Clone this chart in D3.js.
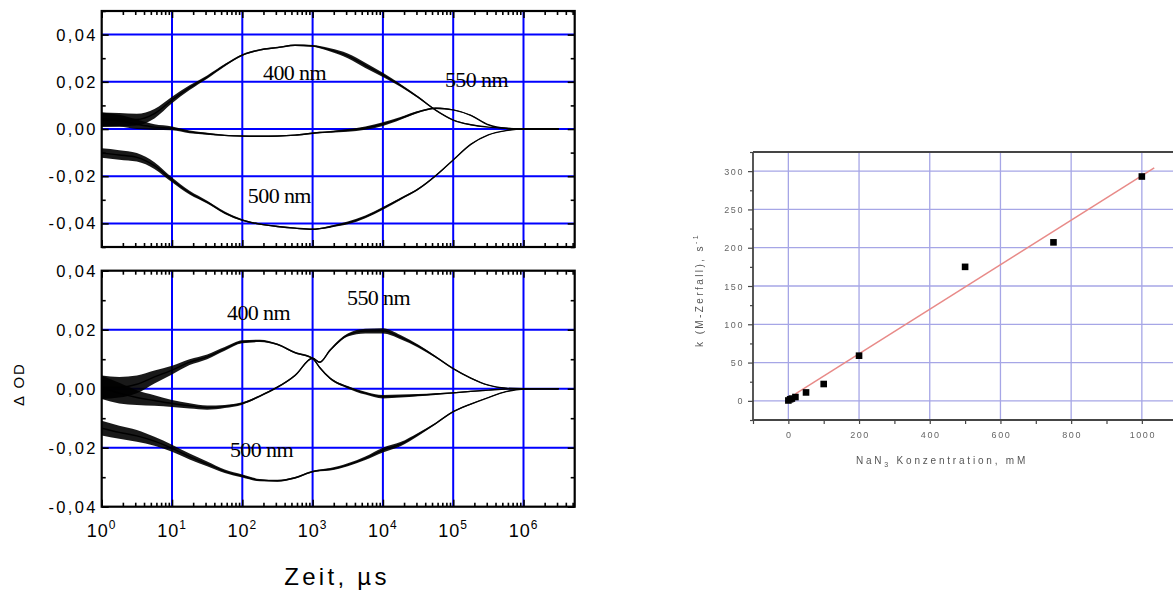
<!DOCTYPE html>
<html><head><meta charset="utf-8">
<script src="https://cdn.jsdelivr.net/npm/d3@7"></script>
<style>
html,body{margin:0;padding:0;background:#fff;}
svg{display:block;}
</style></head><body>
<svg id="fig" width="1173" height="592"></svg>
<script>
// ---------- transient absorption traces: ΔOD against log time ----------
const logTime = [0,0.25,0.5,0.75,1,1.25,1.5,1.75,2,2.25,2.5,2.75,3,3.1,3.25,3.5,3.75,4,4.25,4.5,4.75,5,5.25,5.5,5.75,6,6.25,6.5];

// upper panel
const top400 = [0.004,0.004,0.004,0.0065,0.0123,0.0175,0.022,0.027,0.0313,0.0335,0.0345,0.0355,0.0352,0.0347,0.0335,0.031,0.027,0.0229,0.0185,0.0135,0.008,0.0038,0.0018,0.0008,0.0003,0,0,0];
const top550 = [0.004,0.0035,0.002,0.0008,0.0003,-0.0012,-0.002,-0.0027,-0.003,-0.0031,-0.003,-0.0026,-0.0018,-0.0015,-0.0012,-0.0006,0.0004,0.0021,0.0045,0.0072,0.0088,0.0081,0.0058,0.0018,0.0003,0,0,0];
const top500 = [-0.0102,-0.011,-0.012,-0.0155,-0.0216,-0.027,-0.031,-0.0355,-0.0386,-0.0403,-0.0413,-0.042,-0.0425,-0.0422,-0.0414,-0.0398,-0.0372,-0.0336,-0.0296,-0.0255,-0.0198,-0.0131,-0.0065,-0.0025,-0.0007,0,0,0];
// lower panel
const bot400 = [0.0005,0.0005,0.0015,0.004,0.0063,0.009,0.0108,0.0135,0.0159,0.0162,0.015,0.0122,0.0103,0.0072,0.0035,0.0005,-0.0015,-0.0027,-0.0025,-0.0022,-0.0018,-0.0014,-0.0009,-0.0005,-0.0001,0,0,0];
const bot550 = [0.0005,-0.0015,-0.003,-0.004,-0.005,-0.0058,-0.0064,-0.006,-0.005,-0.0025,0.0005,0.0045,0.0103,0.009,0.0131,0.0182,0.0195,0.0196,0.0175,0.0145,0.0108,0.0068,0.0036,0.0012,0.0002,0,0,0];
const bot500 = [-0.0134,-0.0148,-0.016,-0.0178,-0.0202,-0.023,-0.0255,-0.028,-0.0296,-0.031,-0.0312,-0.0302,-0.0281,-0.0277,-0.0273,-0.0258,-0.0236,-0.0208,-0.0188,-0.0155,-0.0118,-0.0078,-0.0052,-0.003,-0.001,-0.0001,0,0];

// half-width of the measurement noise on each trace
const noiseTop400 = [0.003,0.0028,0.0025,0.002,0.0014,0.001,0.0007,0.0005,0.0004,0.0003,0.0003,0.0003,0.0004,0.0005,0.0007,0.001,0.0011,0.0009,0.0006,0.0004,0.0003,0.0002,0.0002,0.0001,0.0001,0.0001,0.0001,0.0001];
const noiseTop550 = [0.003,0.0025,0.002,0.0012,0.0008,0.0006,0.0004,0.0003,0.0003,0.0003,0.0003,0.0003,0.0003,0.0003,0.0004,0.0006,0.0007,0.0008,0.0006,0.0004,0.0003,0.0002,0.0002,0.0001,0.0001,0.0001,0.0001,0.0001];
const noiseTop500 = [0.002,0.002,0.0018,0.0014,0.001,0.0008,0.0006,0.0005,0.0004,0.0003,0.0003,0.0003,0.0003,0.0003,0.0004,0.0006,0.0006,0.0006,0.0005,0.0004,0.0003,0.0002,0.0002,0.0001,0.0001,0.0001,0.0001,0.0001];
const noiseBot400 = [0.004,0.0035,0.003,0.0022,0.0015,0.001,0.0008,0.0006,0.0005,0.0004,0.0003,0.0003,0.0003,0.0003,0.0003,0.0004,0.0005,0.0006,0.0005,0.0004,0.0003,0.0002,0.0002,0.0001,0.0001,0.0001,0.0001,0.0001];
const noiseBot550 = [0.004,0.0035,0.0025,0.0018,0.0012,0.0009,0.0007,0.0005,0.0004,0.0003,0.0003,0.0003,0.0003,0.0003,0.0004,0.0005,0.0008,0.0009,0.0007,0.0005,0.0003,0.0002,0.0002,0.0001,0.0001,0.0001,0.0001,0.0001];
const noiseBot500 = [0.0025,0.0022,0.002,0.0015,0.0012,0.001,0.0008,0.0006,0.0005,0.0004,0.0003,0.0003,0.0003,0.0003,0.0004,0.0005,0.0006,0.0008,0.0007,0.0005,0.0003,0.0002,0.0002,0.0001,0.0001,0.0001,0.0001,0.0001];

// wavelength labels: text, time (µs), ΔOD
const labelsTop = [["400 nm",197,0.0208],["550 nm",76400,0.0178],["500 nm",120,-0.0314]];
const labelsBot = [["400 nm",60.6,0.0233],["550 nm",3085,0.0284],["500 nm",66.8,-0.0232]];

const decadeExp = [0,1,2,3,4,5,6];
const odMajor = [-0.04,-0.02,0,0.02,0.04];
const odLabels = ["-0,04","-0,02","0,00","0,02","0,04"];
const odMinorTop = [-0.05,-0.03,-0.01,0.01,0.03,0.05];
const odMinorBot = [-0.03,-0.01,0.01,0.03];

// ---------- rate constant vs azide concentration ----------
const conc = [0,5,10,20,50,100,200,500,750,1000];
const rate = [0.5,2,3,5,11,22,59,175,207,293];
const fitSlope = 0.2907, fitIntercept = 3.4, fitFrom = 20, fitTo = 1035;
const concTicks = [0,200,400,600,800,1000];
const rateTicks = [0,50,100,150,200,250,300];

// =====================================================================
const svg = d3.select("#fig");
svg.append("rect").attr("width",1173).attr("height",592).attr("fill","#fff");

const SANS = "'Liberation Sans', Arial, sans-serif";
const SERIF = "'Liberation Serif', 'Times New Roman', serif";

const x = d3.scaleLog().domain([1, 5.35e6]).range([101.7, 574.7]);
const xL = x.range()[0], xR = x.range()[1];
const xMinor = [];
decadeExp.forEach(e => { for (let m = 2; m <= 9; m++) { const v = m * 10 ** e; if (v < x.domain()[1]) xMinor.push(v); } });
const xMajor = decadeExp.map(e => 10 ** e);

const panels = [
  { y: d3.scaleLinear().domain([-0.05,0.05]).range([247,11]), minor: odMinorTop,
    traces: [[top400,noiseTop400],[top550,noiseTop550],[top500,noiseTop500]], labels: labelsTop, xLabels: false },
  { y: d3.scaleLinear().domain([-0.04,0.04]).range([506.7,270.7]), minor: odMinorBot,
    traces: [[bot400,noiseBot400],[bot550,noiseBot550],[bot500,noiseBot500]], labels: labelsBot, xLabels: true }
];

panels.forEach(p => {
  const y = p.y;
  const yT = y.range()[1], yB = y.range()[0];
  const g = svg.append("g");

  // blue grid
  g.append("g").selectAll("line").data(xMajor.slice(1)).join("line")
    .attr("x1", d => x(d)).attr("x2", d => x(d)).attr("y1", yT).attr("y2", yB)
    .attr("stroke", "#0000ff").attr("stroke-width", 2);
  g.append("g").selectAll("line").data(odMajor.filter(v => y(v) > yT + 1 && y(v) < yB - 1)).join("line")
    .attr("x1", xL).attr("x2", xR).attr("y1", d => y(d)).attr("y2", d => y(d))
    .attr("stroke", "#0000ff").attr("stroke-width", 2);

  // traces: noise band plus centre line
  p.traces.forEach(([vals, noise]) => {
    const pts = logTime.map((lt, i) => ({ t: 10 ** lt, v: vals[i], n: noise[i] }));
    g.append("path").datum(pts)
      .attr("d", d3.area().curve(d3.curveMonotoneX).x(d => x(d.t)).y0(d => y(d.v - d.n)).y1(d => y(d.v + d.n)))
      .attr("fill", "#000").attr("fill-opacity", 0.9);
    g.append("path").datum(pts)
      .attr("d", d3.line().curve(d3.curveMonotoneX).x(d => x(d.t)).y(d => y(d.v)))
      .attr("fill", "none").attr("stroke", "#000").attr("stroke-width", 1.4);
  });

  // wavelength labels
  g.append("g").selectAll("text").data(p.labels).join("text")
    .attr("x", d => x(d[1])).attr("y", d => y(d[2]))
    .attr("font-family", SERIF).attr("font-size", 22).attr("letter-spacing", -0.6)
    .attr("fill", "#000").text(d => d[0]);

  // inward ticks on all four sides
  const tk = (axis, vals, len, tr) => {
    const a = g.append("g").attr("transform", tr)
      .call(axis.tickValues(vals).tickSizeInner(-len).tickSizeOuter(0).tickFormat(""));
    a.select(".domain").remove();
    a.selectAll("line").attr("stroke", "#000").attr("stroke-width", 1.6);
  };
  tk(d3.axisBottom(x), xMajor, 7, `translate(0,${yB})`);
  tk(d3.axisBottom(x), xMinor, 4, `translate(0,${yB})`);
  tk(d3.axisTop(x), xMajor, 7, `translate(0,${yT})`);
  tk(d3.axisTop(x), xMinor, 4, `translate(0,${yT})`);
  tk(d3.axisLeft(y), odMajor, 7, `translate(${xL},0)`);
  tk(d3.axisLeft(y), p.minor, 4, `translate(${xL},0)`);
  tk(d3.axisRight(y), odMajor, 7, `translate(${xR},0)`);
  tk(d3.axisRight(y), p.minor, 4, `translate(${xR},0)`);

  // frame
  g.append("rect").attr("x", xL).attr("y", yT).attr("width", xR - xL).attr("height", yB - yT)
    .attr("fill", "none").attr("stroke", "#000").attr("stroke-width", 2.2);

  // ΔOD tick labels
  g.append("g").selectAll("text").data(odMajor).join("text")
    .attr("x", xL - 4).attr("y", d => y(d) + 6).attr("text-anchor", "end")
    .attr("font-family", SANS).attr("font-size", 16.5).attr("letter-spacing", 2.3)
    .attr("fill", "#000").text((d, i) => odLabels[i]);

  // time tick labels 10^n
  if (p.xLabels) {
    const t = g.append("g").selectAll("text").data(decadeExp).join("text")
      .attr("x", d => x(10 ** d)).attr("y", yB + 30).attr("text-anchor", "middle")
      .attr("font-family", SANS).attr("font-size", 18).attr("letter-spacing", 1).attr("fill", "#000");
    t.append("tspan").text("10");
    t.append("tspan").attr("dy", -8).attr("font-size", 12).text(d => d);
  }
});

// axis titles of the kinetics plot
svg.append("text").attr("transform", "translate(24,384) rotate(-90)").attr("text-anchor", "middle")
  .attr("font-family", SANS).attr("font-size", 15).attr("letter-spacing", 2).attr("fill", "#000").text("Δ OD");
svg.append("text").attr("x", 337).attr("y", 585).attr("text-anchor", "middle")
  .attr("font-family", SANS).attr("font-size", 24).attr("letter-spacing", 3.3).attr("fill", "#000").text("Zeit, µs");

// =====================================================================
// right plot: M-decay rate against NaN3 concentration
const defs = svg.append("defs");
defs.append("filter").attr("id", "soft").append("feGaussianBlur").attr("stdDeviation", 0.55);

const x2 = d3.scaleLinear().domain([-100, 1100]).range([753, 1177.2]);
const y2 = d3.scaleLinear().domain([-25, 325]).range([420, 152]);
const r = svg.append("g").attr("filter", "url(#soft)");
const GRID2 = "#a6a6e6", AX2 = "#444", TXT2 = "#666";

r.append("g").selectAll("line").data(concTicks).join("line")
  .attr("x1", d => x2(d)).attr("x2", d => x2(d)).attr("y1", y2.range()[1]).attr("y2", y2.range()[0])
  .attr("stroke", GRID2).attr("stroke-width", 1.3);
r.append("g").selectAll("line").data(rateTicks).join("line")
  .attr("x1", x2.range()[0]).attr("x2", x2.range()[1]).attr("y1", d => y2(d)).attr("y2", d => y2(d))
  .attr("stroke", GRID2).attr("stroke-width", 1.3);

// linear fit
r.append("line")
  .attr("x1", x2(fitFrom)).attr("y1", y2(fitIntercept + fitSlope * fitFrom))
  .attr("x2", x2(fitTo)).attr("y2", y2(fitIntercept + fitSlope * fitTo))
  .attr("stroke", "#e88a88").attr("stroke-width", 1.5);

// measured points
r.append("g").selectAll("rect").data(conc).join("rect")
  .attr("x", d => x2(d) - 3.3).attr("y", (d, i) => y2(rate[i]) - 3.3)
  .attr("width", 6.6).attr("height", 6.6).attr("fill", "#000");

// axes
const ax2 = (axis, vals, len, tr) => {
  const a = r.append("g").attr("transform", tr)
    .call(axis.tickValues(vals).tickSizeInner(len).tickSizeOuter(0).tickFormat(""));
  a.select(".domain").remove();
  a.selectAll("line").attr("stroke", AX2).attr("stroke-width", 1.2);
};
ax2(d3.axisLeft(y2), rateTicks, 5, `translate(${x2.range()[0]},0)`);
ax2(d3.axisLeft(y2), d3.range(-25, 326, 50), 3, `translate(${x2.range()[0]},0)`);
ax2(d3.axisBottom(x2), d3.range(-100, 1101, 100), 4, `translate(0,${y2.range()[0]})`);

r.append("line").attr("x1", x2.range()[0]).attr("x2", x2.range()[0]).attr("y1", y2.range()[1]).attr("y2", y2.range()[0])
  .attr("stroke", AX2).attr("stroke-width", 1.8);
r.append("line").attr("x1", x2.range()[0]).attr("x2", x2.range()[1]).attr("y1", y2.range()[0]).attr("y2", y2.range()[0])
  .attr("stroke", AX2).attr("stroke-width", 1.8);
r.append("line").attr("x1", x2.range()[0]).attr("x2", x2.range()[1]).attr("y1", y2.range()[1]).attr("y2", y2.range()[1])
  .attr("stroke", AX2).attr("stroke-width", 1.8);

r.append("g").selectAll("text").data(rateTicks).join("text")
  .attr("x", x2.range()[0] - 9).attr("y", d => y2(d) + 3.5).attr("text-anchor", "end")
  .attr("font-family", SANS).attr("font-size", 9).attr("letter-spacing", 1.6).attr("fill", TXT2).text(d => d);
r.append("g").selectAll("text").data(concTicks).join("text")
  .attr("x", d => x2(d) + 1).attr("y", y2.range()[0] + 18).attr("text-anchor", "middle")
  .attr("font-family", SANS).attr("font-size", 9).attr("letter-spacing", 1.6).attr("fill", TXT2).text(d => d);

const yt = r.append("text").attr("transform", "translate(703,290) rotate(-90)").attr("text-anchor", "middle")
  .attr("font-family", SANS).attr("font-size", 10).attr("letter-spacing", 2.4).attr("fill", "#555");
yt.append("tspan").text("k (M-Zerfall), s");
yt.append("tspan").attr("dy", -5).attr("font-size", 7).text("-1");

const xt = r.append("text").attr("x", 942).attr("y", 464).attr("text-anchor", "middle")
  .attr("font-family", SANS).attr("font-size", 10).attr("letter-spacing", 2.8).attr("fill", "#555");
xt.append("tspan").text("NaN");
xt.append("tspan").attr("dy", 3).attr("font-size", 7).text("3");
xt.append("tspan").attr("dy", -3).text(" Konzentration, mM");
</script>
</body></html>
